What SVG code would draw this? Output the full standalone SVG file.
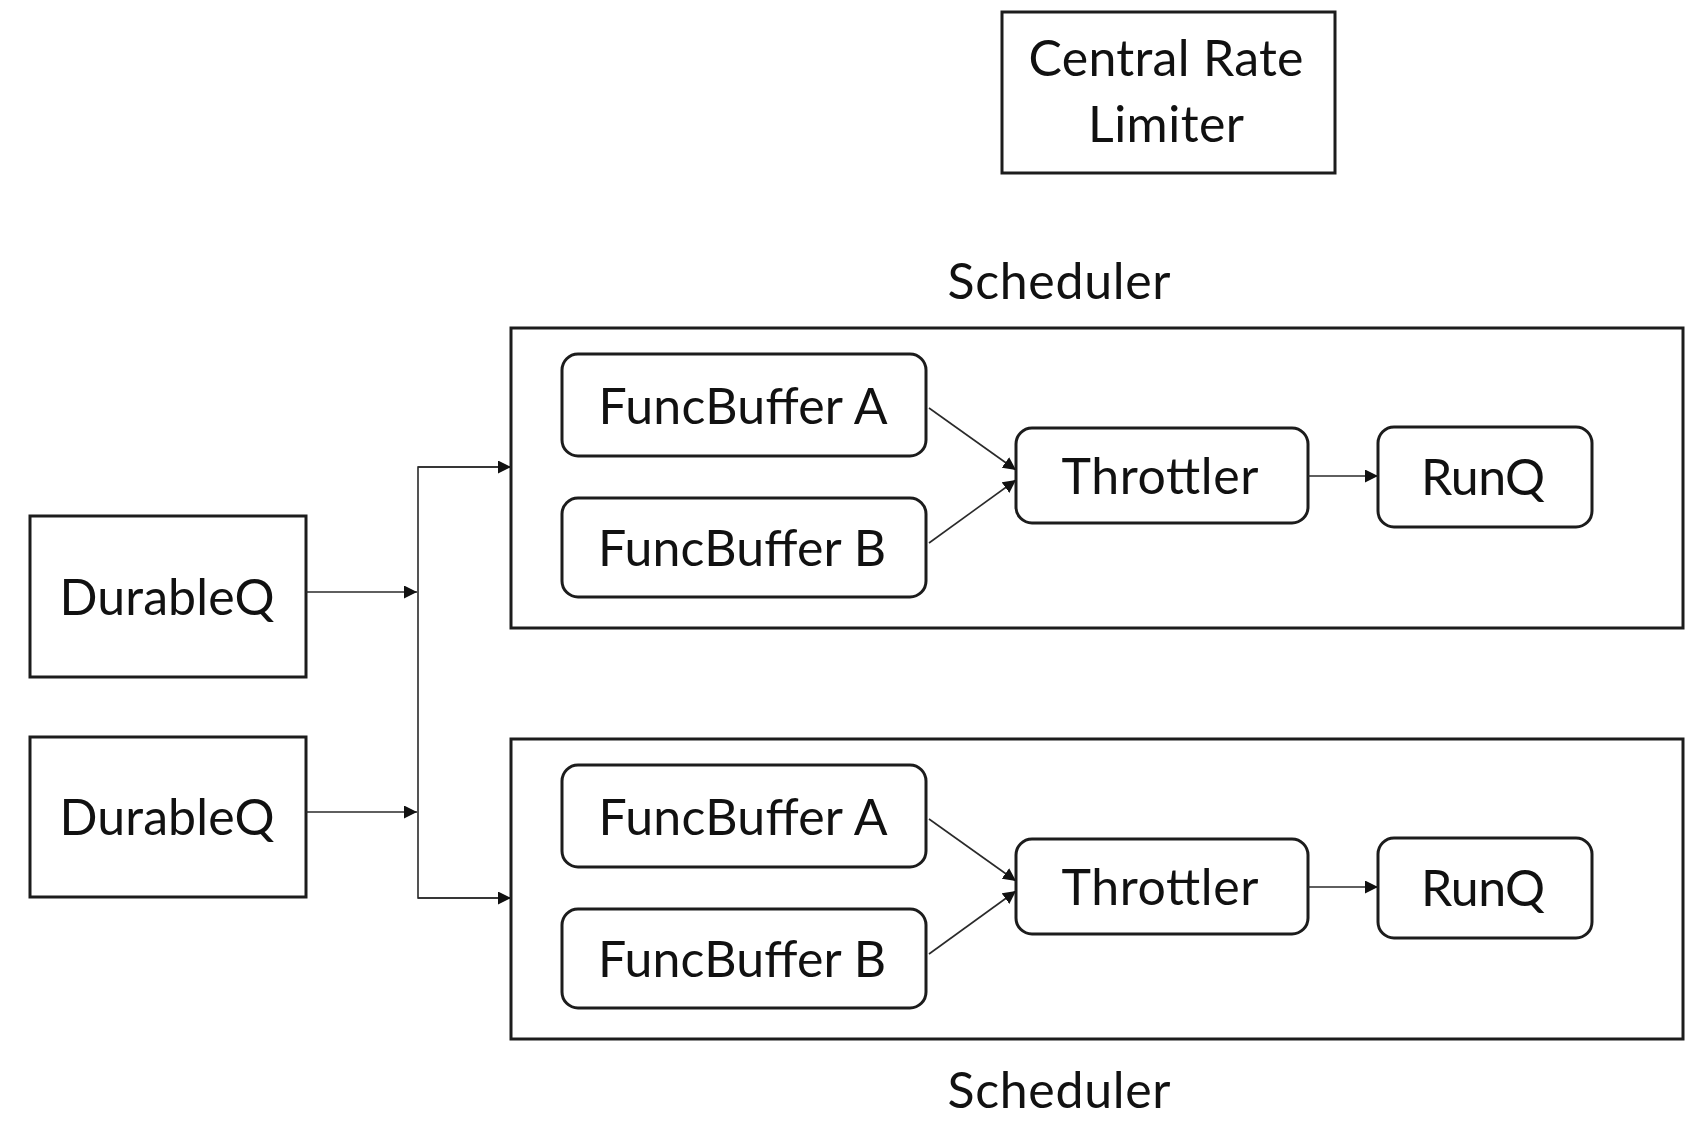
<svg xmlns="http://www.w3.org/2000/svg" width="1704" height="1122" viewBox="0 0 1704 1122">
  <style>
    .box { fill: #ffffff; stroke: #1c1c1c; stroke-width: 3; }
    .rbox { fill: #ffffff; stroke: #1c1c1c; stroke-width: 3; }
    .lbl { font-family: Lato, "Liberation Sans", sans-serif; font-size: 50px; fill: #111111; text-anchor: middle; }
    .wire { fill: none; stroke: #2a2a2a; stroke-width: 1.6; }
  </style>
  <defs>
    <marker id="arrow" viewBox="0 0 12 12" refX="12" refY="6" markerWidth="13" markerHeight="13" markerUnits="userSpaceOnUse" orient="auto">
      <path d="M0,0 L12,6 L0,12 Z" fill="#111111"/>
    </marker>
    <!-- one scheduler's contents, reused for both instances -->
    <g id="scheduler-body">
      <rect class="box" x="511" y="328" width="1172" height="300"/>
      <g id="funcbuffer-a">
        <rect class="rbox" x="562" y="354" width="364" height="102" rx="16"/>
        <text class="lbl" x="743" y="424" textLength="289">FuncBuffer A</text>
      </g>
      <g id="funcbuffer-b">
        <rect class="rbox" x="562" y="498" width="364" height="99" rx="16"/>
        <text class="lbl" x="742" y="566" textLength="288">FuncBuffer B</text>
      </g>
      <g id="throttler">
        <rect class="rbox" x="1016" y="428" width="292" height="95" rx="16"/>
        <text class="lbl" x="1160" y="494" textLength="197">Throttler</text>
      </g>
      <g id="runq">
        <rect class="rbox" x="1378" y="427" width="214" height="100" rx="16"/>
        <text class="lbl" x="1483" y="495" textLength="124">RunQ</text>
      </g>
      <g class="wire">
        <line x1="929" y1="408" x2="1016" y2="470" marker-end="url(#arrow)"/>
        <line x1="929" y1="543" x2="1016" y2="480" marker-end="url(#arrow)"/>
        <line x1="1308" y1="476" x2="1378" y2="476" marker-end="url(#arrow)"/>
      </g>
    </g>
  </defs>

  <rect x="0" y="0" width="1704" height="1122" fill="#ffffff"/>

  <g id="central-rate-limiter">
    <rect class="box" x="1002" y="12" width="333" height="161"/>
    <text class="lbl" x="1166" y="76" textLength="275">Central Rate</text>
    <text class="lbl" x="1166" y="142" textLength="156">Limiter</text>
  </g>

  <g id="durableq-1">
    <rect class="box" x="30" y="516" width="276" height="161"/>
    <text class="lbl" x="167" y="615" textLength="215">DurableQ</text>
  </g>
  <g id="durableq-2">
    <rect class="box" x="30" y="737" width="276" height="160"/>
    <text class="lbl" x="167" y="835" textLength="215">DurableQ</text>
  </g>

  <g id="scheduler-1">
    <use href="#scheduler-body"/>
    <text class="lbl" x="1059" y="299" textLength="223">Scheduler</text>
  </g>
  <g id="scheduler-2">
    <use href="#scheduler-body" transform="translate(0,411)"/>
    <text class="lbl" x="1059" y="1108" textLength="223">Scheduler</text>
  </g>

  <g id="connectors" class="wire">
    <line x1="306" y1="592" x2="417" y2="592" marker-end="url(#arrow)"/>
    <line x1="306" y1="812" x2="417" y2="812" marker-end="url(#arrow)"/>
    <polyline points="511,467 418,467 418,898 511,898" fill="none"/>
    <line x1="418" y1="467" x2="511" y2="467" marker-end="url(#arrow)"/>
    <line x1="418" y1="898" x2="511" y2="898" marker-end="url(#arrow)"/>
  </g>
</svg>
